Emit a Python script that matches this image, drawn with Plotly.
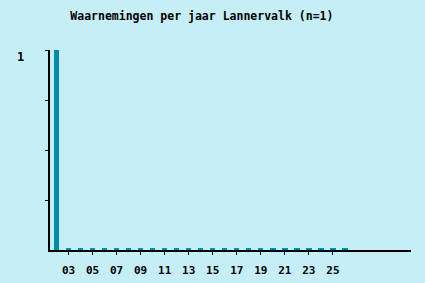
import plotly.graph_objects as go

years = list(range(2, 27))
counts = [1] + [0] * 24
tick_years = list(range(3, 26, 2))
tick_labels = [f"{y:02d}" for y in tick_years]
title = "Waarnemingen per jaar Lannervalk (n=1)"

bg = "#C6EEF7"
bar_color = "#008BAA"
font_family = "DejaVu Sans Mono"

# zero counts are rendered as a thin stub like the original
display = [c if c > 0 else 0.012 for c in counts]

fig = go.Figure(go.Bar(
    x=years, y=display, width=0.45,
    marker=dict(color=bar_color, line=dict(width=0)),
))

fig.update_layout(
    width=425, height=283,
    paper_bgcolor=bg, plot_bgcolor=bg,
    margin=dict(l=50, r=14, t=50, b=33, autoexpand=False),
    showlegend=False,
    title=dict(text=title, x=0.475, xanchor="center", y=0.945, yanchor="middle",
               font=dict(family=font_family, size=11.5, color="black", weight="bold")),
    xaxis=dict(range=[1.46, 31.5], showgrid=False, zeroline=False,
               showline=True, linecolor="black", linewidth=2,
               tickmode="array", tickvals=tick_years, ticktext=tick_labels,
               ticks="outside", ticklen=3, tickcolor="black", tickwidth=1,
               tickfont=dict(family=font_family, size=11, color="black", weight="bold"),
               ticklabelstandoff=6),
    yaxis=dict(range=[0, 1], showgrid=False, zeroline=False,
               showline=True, linecolor="black", linewidth=2,
               tickmode="array", tickvals=[0.25, 0.5, 0.75, 1], ticktext=["", "", "", ""],
               ticks="outside", ticklen=3, tickcolor="black", tickwidth=1),
    bargap=0,
)

fig.add_annotation(x=0, xref="paper", y=1, yref="y", text="1", showarrow=False,
                   xanchor="right", xshift=-24, yshift=-7,
                   font=dict(family=font_family, size=12, color="black", weight="bold"))

fig.write_html("out.html")
